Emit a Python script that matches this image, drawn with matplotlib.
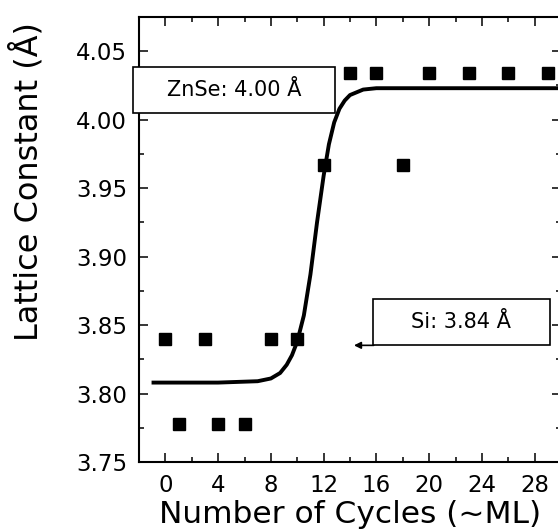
import matplotlib
matplotlib.use("Agg")
import matplotlib.pyplot as plt
from matplotlib.patches import Rectangle
from matplotlib.ticker import MultipleLocator

# measured points
cycles = [0, 1, 3, 4, 6, 8, 10, 12, 14, 16, 18, 20, 23, 26, 29]
lattice = [3.84, 3.778, 3.84, 3.778, 3.778, 3.84, 3.84, 3.967,
           4.034, 4.034, 3.967, 4.034, 4.034, 4.034, 4.034]

# fitted curve
fit_x = [-0.9, 4, 7, 8, 8.7, 9.2, 9.6, 10.0, 10.5, 11.0, 11.5, 12.0,
         12.4, 12.8, 13.2, 13.6, 14.0, 15.0, 16.0, 31]
fit_y = [3.808, 3.808, 3.809, 3.811, 3.815, 3.821, 3.828, 3.838, 3.857,
         3.887, 3.925, 3.959, 3.982, 3.998, 4.008, 4.014, 4.018, 4.022,
         4.023, 4.023]

xticks = [0, 4, 8, 12, 16, 20, 24, 28]
yticks = [3.75, 3.80, 3.85, 3.90, 3.95, 4.00, 4.05]

fig = plt.figure(figsize=(5.58, 5.29), dpi=100)
ax = fig.add_axes([139/558, 67/529, 422/558, 445/529])

ax.plot(fit_x, fit_y, color='k', lw=2.8, solid_joinstyle='round', zorder=2)
ax.plot(cycles, lattice, 's', color='k', ms=9, zorder=3, clip_on=False)

ax.set_xlim(-2, 30)
ax.set_ylim(3.75, 4.075)
ax.set_xticks(xticks)
ax.set_yticks(yticks)
ax.set_yticklabels(['%.2f' % v for v in yticks])
ax.xaxis.set_minor_locator(MultipleLocator(2))
ax.yaxis.set_minor_locator(MultipleLocator(0.025))
ax.tick_params(which='both', direction='in', top=True, right=True, width=1.1)
ax.tick_params(which='major', length=6.5, labelsize=16.5)
ax.tick_params(which='minor', length=3.6)
ax.tick_params(axis='x', pad=9)
ax.tick_params(axis='y', pad=8.5)
for s in ax.spines.values():
    s.set_linewidth(1.5)

ax.set_xlabel('Number of Cycles (~ML)', fontsize=22.5, labelpad=2)
fig.text(27/558, 1 - 182/529, 'Lattice Constant (Å)', rotation=90,
         fontsize=23, ha='center', va='center')

# ZnSe box
ax.add_patch(Rectangle((-2.42, 4.0047), 15.25, 0.0336, fc='white', ec='k',
                       lw=1.2, clip_on=False, zorder=5))
ax.text(5.2, 4.0215, 'ZnSe: 4.00 Å', fontsize=15, ha='center', va='center',
        zorder=6)

# Si box with arrow
ax.add_patch(Rectangle((15.77, 3.8352), 13.41, 0.0342, fc='white', ec='k',
                       lw=1.2, clip_on=False, zorder=5))
ax.text(22.45, 3.852, 'Si: 3.84 Å', fontsize=15, ha='center', va='center',
        zorder=6)
ax.annotate('', xy=(14.3, 3.8352), xytext=(15.8, 3.8352),
            arrowprops=dict(arrowstyle='-|>', lw=1.2, color='k',
                            mutation_scale=10, shrinkA=0, shrinkB=0))

fig.savefig('out.png', dpi=100)
